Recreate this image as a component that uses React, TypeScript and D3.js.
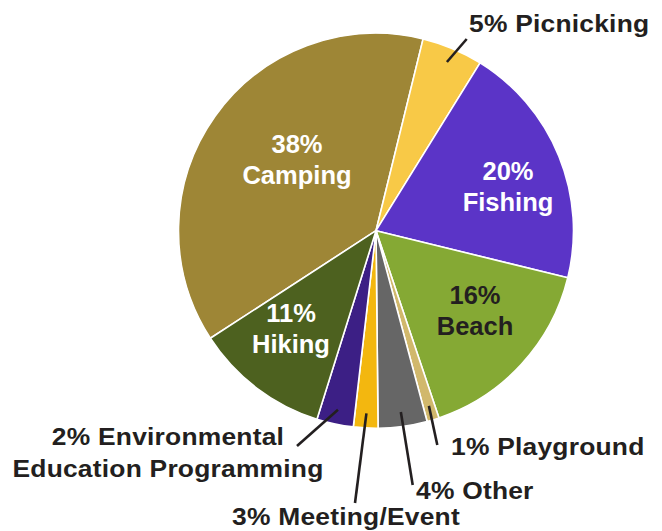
import React from "react";
import * as d3 from "d3";

const categories = [
  "Camping",
  "Picnicking",
  "Fishing",
  "Beach",
  "Playground",
  "Other",
  "Meeting/Event",
  "Environmental Education Programming",
  "Hiking",
];
// slice sizes as drawn (percent)
const values = [38, 5, 20, 16, 1, 4, 2, 3, 11];
// label texts as printed
const labelLines = [
  ["38%", "Camping"],
  ["5% Picnicking"],
  ["20%", "Fishing"],
  ["16%", "Beach"],
  ["1% Playground"],
  ["4% Other"],
  ["3% Meeting/Event"],
  ["2% Environmental", "Education Programming"],
  ["11%", "Hiking"],
];
const colors = [
  "#9E8636",
  "#F8C947",
  "#5B34C7",
  "#85A934",
  "#D1B86C",
  "#666666",
  "#F3B70F",
  "#3C1F85",
  "#4D611F",
];

const W = 662;
const H = 531;
const CX = 376;
const CY = 230.7;
const R = 197.5;
const START_DEG = 13.8 - 136.8;
const INK = "#231F20";
const STRETCH = 1.1;

type Lay =
  | { kind: "in"; x: number; y: number; color: string }
  | { kind: "out"; tx: number; ty: number; anchor: string; lx: number; ly: number };
const layout: Lay[] = [
  { kind: "in", x: 297, y: 153, color: "#FFFFFF" },
  { kind: "out", tx: 469, ty: 32, anchor: "start", lx: 466.7, ly: 39 },
  { kind: "in", x: 508, y: 180, color: "#FFFFFF" },
  { kind: "in", x: 475, y: 304, color: INK },
  { kind: "out", tx: 451, ty: 455, anchor: "start", lx: 437.3, ly: 445 },
  { kind: "out", tx: 416, ty: 499, anchor: "start", lx: 412.7, ly: 485 },
  { kind: "out", tx: 346, ty: 525, anchor: "middle", lx: 355, ly: 503 },
  { kind: "out", tx: 168, ty: 445, anchor: "middle", lx: 297, ly: 446 },
  { kind: "in", x: 291, y: 322, color: "#FFFFFF" },
];

export default function App() {
  const pie = d3
    .pie<number>()
    .sort(null)
    .value((d) => d)
    .startAngle((START_DEG * Math.PI) / 180)
    .endAngle((START_DEG * Math.PI) / 180 + 2 * Math.PI);
  const arcs = pie(values);
  const arc = d3.arc<d3.PieArcDatum<number>>().innerRadius(0).outerRadius(R);

  return (
    <svg
      width={W}
      height={H}
      style={{ position: "absolute", left: 0, top: 0, background: "#fff" }}
      fontFamily="'Liberation Sans', Arial, Helvetica, sans-serif"
      fontWeight="bold"
    >
      <g transform={`translate(${CX},${CY})`}>
        {arcs.map((a, i) => (
          <path key={categories[i]} d={arc(a) || ""} fill={colors[i]} stroke="#fff" strokeWidth={1.6} strokeLinejoin="round" />
        ))}
      </g>
      {arcs.map((a, i) => {
        const l = layout[i];
        if (l.kind !== "out") return null;
        const mid = (a.startAngle + a.endAngle) / 2;
        const px = CX + 183 * Math.sin(mid);
        const py = CY - 183 * Math.cos(mid);
        return <line key={"l" + i} x1={px} y1={py} x2={l.lx} y2={l.ly} stroke={INK} strokeWidth={2.6} />;
      })}
      {layout.map((l, i) => {
        const lines = labelLines[i];
        if (l.kind === "in") {
          return (
            <text key={"t" + i} x={l.x} y={l.y} textAnchor="middle" fill={l.color} fontSize={25.5}>
              {lines.map((s, j) => (
                <tspan key={j} x={l.x} dy={j === 0 ? 0 : 31}>
                  {s}
                </tspan>
              ))}
            </text>
          );
        }
        return (
          <text
            key={"t" + i}
            transform={`translate(${l.tx},${l.ty}) scale(${STRETCH},1)`}
            textAnchor={l.anchor}
            fill={INK}
            fontSize={24}
            letterSpacing={0.2}
          >
            {lines.map((s, j) => (
              <tspan key={j} x={0} dy={j === 0 ? 0 : 32}>
                {s}
              </tspan>
            ))}
          </text>
        );
      })}
    </svg>
  );
}
